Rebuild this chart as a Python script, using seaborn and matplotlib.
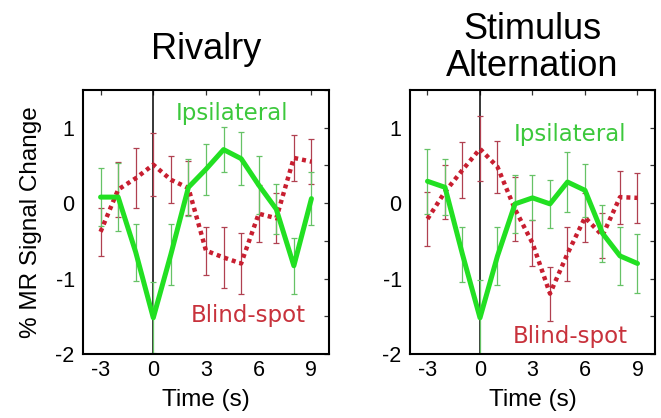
import seaborn as sns
import matplotlib.pyplot as plt
import pandas as pd
from matplotlib.ticker import MultipleLocator

# time points (s) relative to the perceptual switch
time = list(range(-3, 10))

# Rivalry panel
riv_ipsi = [0.08, 0.08, -0.65, -1.52, -0.68, 0.21, 0.45, 0.71, 0.59, 0.24, -0.08, -0.83, 0.06]
riv_ipsi_err = [0.38, 0.45, 0.38, 0.47, 0.40, 0.38, 0.34, 0.30, 0.35, 0.38, 0.33, 0.37, 0.35]
riv_blind = [-0.38, 0.18, 0.33, 0.51, 0.31, 0.20, -0.63, -0.72, -0.80, -0.14, -0.20, 0.60, 0.55]
riv_blind_err = [0.32, 0.36, 0.40, 0.42, 0.31, 0.36, 0.32, 0.40, 0.40, 0.38, 0.33, 0.30, 0.30]

# Stimulus alternation panel
alt_ipsi = [0.29, 0.21, -0.68, -1.52, -0.70, -0.01, 0.07, -0.01, 0.28, 0.17, -0.40, -0.70, -0.80]
alt_ipsi_err = [0.43, 0.37, 0.36, 0.50, 0.38, 0.38, 0.30, 0.32, 0.40, 0.35, 0.38, 0.38, 0.39]
alt_blind = [-0.21, 0.15, 0.44, 0.72, 0.48, -0.08, -0.53, -1.20, -0.67, -0.19, -0.43, 0.08, 0.07]
alt_blind_err = [0.36, 0.36, 0.37, 0.43, 0.35, 0.42, 0.30, 0.36, 0.36, 0.33, 0.30, 0.35, 0.33]

titles = ["Rivalry", "Stimulus\nAlternation"]
title_pads = [22, 10]
ipsi_label_pos = [(4.5, 1.10), (5.13, 0.82)]
blind_label_pos = [(5.38, -1.57), (5.17, -1.85)]

GREEN = "#22e022"
GREEN_ERR = "#66c266"
RED = "#c81e30"
RED_ERR = "#b04050"

sns.set_style("white")
plt.rcParams["font.family"] = ["Liberation Sans", "DejaVu Sans"]
plt.rcParams["axes.unicode_minus"] = False
plt.rcParams["text.color"] = "black"
plt.rcParams["axes.labelcolor"] = "black"
plt.rcParams["xtick.color"] = "black"
plt.rcParams["ytick.color"] = "black"


def draw_panel(ax, df, title, pad, ipsi_pos, blind_pos, ylabel):
    '''Draw one panel: two time courses with error bars.'''

    ax.axvline(0, color="black", lw=1.1, zorder=1)

    ax.errorbar(df["t"], df["blind"], yerr=df["blind_err"], fmt="none",
                ecolor=RED_ERR, elinewidth=0.9, capsize=2, capthick=0.9, zorder=2)
    ax.errorbar(df["t"], df["ipsi"], yerr=df["ipsi_err"], fmt="none",
                ecolor=GREEN_ERR, elinewidth=0.9, capsize=2, capthick=0.9, zorder=2)

    sns.lineplot(data=df, x="t", y="blind", ax=ax, color=RED, lw=3.2,
                 dashes=False, zorder=3)
    ax.lines[-1].set_dashes((0.9, 0.9))
    sns.lineplot(data=df, x="t", y="ipsi", ax=ax, color=GREEN, lw=3.6, zorder=4)

    ax.text(*ipsi_pos, "Ipsilateral", color="#3cc83c", fontsize=16.5,
            family="DejaVu Sans", ha="center", va="baseline")
    ax.text(*blind_pos, "Blind-spot", color="#c8323c", fontsize=16.5,
            family="DejaVu Sans", ha="center", va="baseline")

    ax.set_xlim(-4, 10)
    ax.set_ylim(-2, 1.5)
    ax.set_xticks([-3, 0, 3, 6, 9])
    ax.set_yticks([-2, -1, 0, 1])
    ax.yaxis.set_minor_locator(MultipleLocator(0.5))
    ax.tick_params(which="both", direction="in", top=True, right=True,
                   length=3.5, width=0.9, color="#333333")
    ax.tick_params(axis="x", labelsize=15.5, pad=4)
    ax.tick_params(axis="y", labelsize=15.5, pad=6)

    for s in ax.spines.values():
        s.set_linewidth(1.5)
        s.set_color("black")

    ax.set_xlabel("Time (s)", fontsize=17.5, labelpad=6)
    if ylabel:
        ax.set_ylabel("% MR Signal Change", fontsize=17.5, labelpad=10)
    else:
        ax.set_ylabel("")
    ax.set_title(title, fontsize=26, pad=pad, linespacing=1.08, color="black")


fig = plt.figure(figsize=(6.61, 4.18), dpi=100)
ax1 = fig.add_axes([83 / 661, 1 - 354 / 418, 246 / 661, 264 / 418])
ax2 = fig.add_axes([410 / 661, 1 - 354 / 418, 245 / 661, 264 / 418])

panels = [
    pd.DataFrame({"t": time, "ipsi": riv_ipsi, "ipsi_err": riv_ipsi_err,
                  "blind": riv_blind, "blind_err": riv_blind_err}),
    pd.DataFrame({"t": time, "ipsi": alt_ipsi, "ipsi_err": alt_ipsi_err,
                  "blind": alt_blind, "blind_err": alt_blind_err}),
]

for n, (ax, df) in enumerate(zip([ax1, ax2], panels)):
    draw_panel(ax, df, titles[n], title_pads[n], ipsi_label_pos[n],
               blind_label_pos[n], ylabel=(n == 0))

plt.savefig("out.png", dpi=100)
